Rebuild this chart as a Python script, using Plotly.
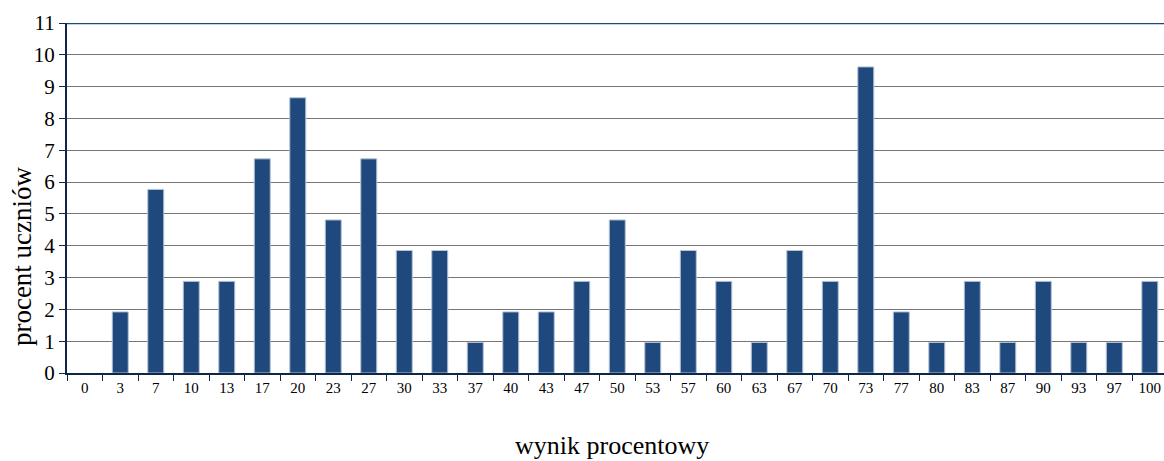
import plotly.graph_objects as go

categories = ["0", "3", "7", "10", "13", "17", "20", "23", "27", "30", "33", "37", "40", "43", "47",
              "50", "53", "57", "60", "63", "67", "70", "73", "77", "80", "83", "87", "90", "93", "97", "100"]
percent = [0, 1.92, 5.77, 2.88, 2.88, 6.73, 8.65, 4.81, 6.73, 3.85, 3.85, 0.96, 1.92, 1.92, 2.88,
           4.81, 0.96, 3.85, 2.88, 0.96, 3.85, 2.88, 9.62, 1.92, 0.96, 2.88, 0.96, 2.88, 0.96, 0.96, 2.88]
y_ticks = list(range(0, 12))

FONT = "Liberation Serif, Times New Roman, serif"

fig = go.Figure()
fig.add_trace(go.Bar(
    x=categories, y=percent,
    marker=dict(color="#1F497D",
                line=dict(color="#B4C3D8", width=[0 if v == 0 else 1 for v in percent])),
    width=0.45,
    hoverinfo="x+y",
))

fig.update_layout(
    width=1164, height=461,
    margin=dict(l=67, r=0, t=23, b=88, autoexpand=False),
    paper_bgcolor="white", plot_bgcolor="white",
    showlegend=False,
    font=dict(family=FONT, color="black"),
    xaxis=dict(
        type="category",
        range=[-0.5, 30.4],
        showgrid=False,
        showline=True, linecolor="#0F2747", linewidth=2,
        ticks="outside", tickson="boundaries", ticklen=6, tickcolor="#0F2747", tickwidth=1,
        tickfont=dict(size=15, family=FONT, color="black"),
        layer="above traces",
        fixedrange=True,
    ),
    yaxis=dict(
        range=[0, 11],
        tickvals=y_ticks,
        showgrid=True, gridcolor="#767676", gridwidth=1.3,
        showline=True, linecolor="#0F2747", linewidth=2,
        ticks="outside", ticklen=6, tickcolor="#0F2747", tickwidth=1,
        tickfont=dict(size=21, family=FONT, color="black"),
        zeroline=False,
        fixedrange=True,
    ),
    shapes=[dict(type="line", xref="paper", yref="y", x0=0, x1=1, y0=11, y1=11,
                 line=dict(color="#1F497D", width=2.5))],
    annotations=[
        dict(text="wynik procentowy", xref="paper", yref="paper", x=0.497, y=0,
             yshift=-72, xanchor="center", yanchor="middle", showarrow=False,
             font=dict(size=26, family=FONT, color="black")),
        dict(text="procent uczniów", xref="paper", yref="paper", x=0, y=0.334,
             xshift=-45, xanchor="center", yanchor="middle", textangle=-90, showarrow=False,
             font=dict(size=27, family=FONT, color="black")),
    ],
)

fig.write_html("out.html",
               config={"displayModeBar": False},
               post_script="document.body.style.margin='0';document.body.style.overflow='hidden';")
